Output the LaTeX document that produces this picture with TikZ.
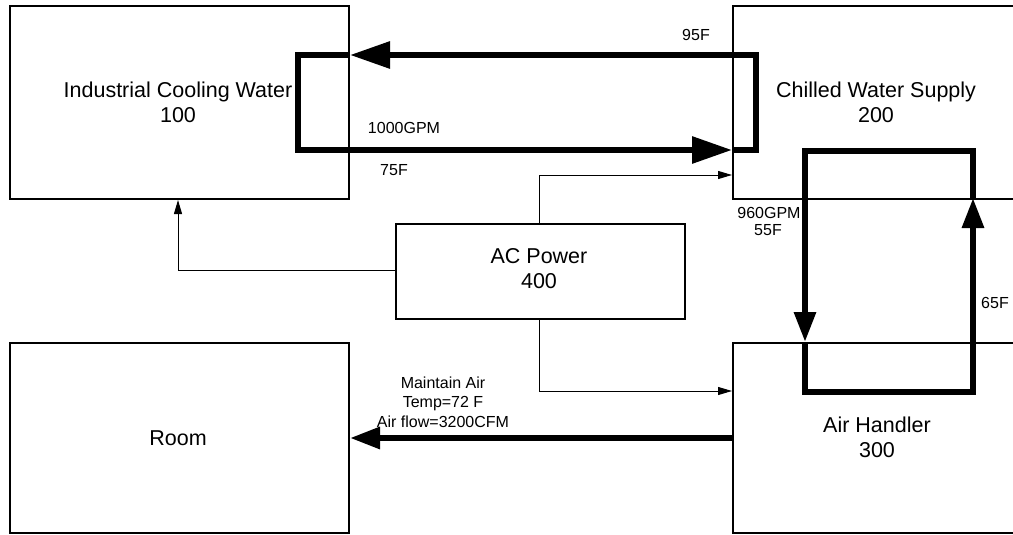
\documentclass[tikz,border=0pt]{standalone}
\usepackage{fontspec}
\setmainfont{Liberation Sans}
\usetikzlibrary{arrows.meta}
\begin{document}
\begin{tikzpicture}[x=1pt,y=-1pt,
  box/.style={draw=black,line width=2pt,inner sep=0pt,anchor=north west},
  big/.style={font=\fontsize{21.5}{25}\selectfont,align=center,inner sep=0pt},
  small/.style={font=\fontsize{16}{19.5}\selectfont,align=center,inner sep=0pt},
  pipe/.style={line width=6pt,line join=miter},
  bigtip/.style={-{Triangle[length=40pt,width=26pt]}},
  midtip/.style={-{Triangle[length=30pt,width=21pt]}},
  thin/.style={line width=1pt,-{Triangle[length=14pt,width=8pt]}}]
\useasboundingbox (0,0) rectangle (1013,535);
\clip (0,0) rectangle (1013,535);
% boxes
\node[box,minimum width=339pt,minimum height=193pt] (icw) at (9,5) {};
\node[box,minimum width=340pt,minimum height=193pt] (cws) at (732,5) {};
\node[box,minimum width=289pt,minimum height=95pt,line width=1.5pt] (ac) at (395,223) {};
\node[box,minimum width=339pt,minimum height=190pt] (room) at (9,342) {};
\node[box,minimum width=340pt,minimum height=190pt] (ah) at (732,342) {};
% texts
\node[big] (ticw) at (178,102) {Industrial Cooling Water\\100};
\node[big] (tcws) at (876,102) {Chilled Water Supply\\200};
\node[big] (tac) at (539,269) {AC Power\\400};
\node[big] (troom) at (178,438) {Room};
\node[big] (tah) at (877,437) {Air Handler\\300};
% coordinates
\coordinate (a1) at (icw.east |- 0,55);
\coordinate (a2) at (icw.east |- 0,150);
\coordinate (b1) at (cws.west |- 0,55);
\coordinate (b2) at (cws.west |- 0,150);
\coordinate (c1) at (805,198);
\coordinate (c2) at (805,342);
\coordinate (d1) at (973,198);
\coordinate (d2) at (973,342);
% loop 1
\draw[pipe] (a1) -- (298,55) -- (298,150) -- (a2);
\draw[pipe,bigtip] (a2) -- (b2);
\draw[pipe] (b2) -- (756,150) -- (756,55) -- (b1);
\draw[pipe,bigtip] (b1) -- (a1);
% loop 2
\draw[pipe] (d1) -- (973,151) -- (805,151) -- (c1);
\draw[pipe,midtip] (c1) -- (c2);
\draw[pipe] (c2) -- (805,392) -- (973,392) -- (d2);
\draw[pipe,midtip] (d2) -- (d1);
% room arrow
\coordinate (r1) at (ah.west |- 0,438);
\coordinate (r2) at (room.east |- 0,438);
\draw[pipe,midtip] (r1) -- (r2);
% thin connectors
\draw[thin] (ac.north -| 539,0) |- (cws.west |- 0,175);
\draw[thin] (ac.south -| 539,0) |- (ah.west |- 0,391);
\draw[thin] (ac.west |- 0,270) -| (icw.south -| 178,0);
% labels
\node[small] (l95) at (696,35) {95F};
\node[small] (l1000) at (404,128) {1000GPM};
\node[small] (l75) at (394,170) {75F};
\node[small] (l960) at (769,213) {960GPM};
\node[small] (l55) at (768,230) {55F};
\node[small] (l65) at (995,303) {65F};
\node[small] (lair) at (443,402) {Maintain Air\\Temp=72 F\\Air flow=3200CFM};
\end{tikzpicture}
\end{document}
